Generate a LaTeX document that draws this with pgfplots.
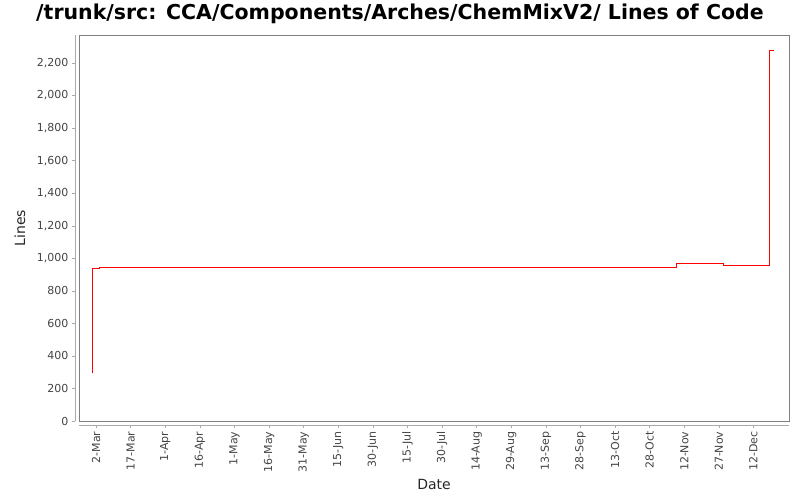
\documentclass[border=0pt]{standalone}
\usepackage{pgfplots}
\pgfplotsset{compat=1.18}
\usepackage{fontspec}
\setmainfont{DejaVu Sans}

\definecolor{axisgray}{RGB}{128,128,128}
\definecolor{tickgray}{RGB}{170,170,170}
\definecolor{textgray}{RGB}{68,68,68}

\begin{document}
\begin{tikzpicture}
  \useasboundingbox (0pt,0pt) rectangle (800pt,500pt);
  \node[font=\bfseries\fontsize{20.5}{24}\selectfont] at (400pt,486pt) {/trunk/src: CCA/Components/Arches/ChemMixV2/ Lines of Code};
  \begin{axis}[
    at={(79pt,79pt)}, anchor=south west,
    scale only axis,
    width=710pt, height=386pt,
    xmin=-7.4, xmax=300.4,
    ymin=0, ymax=2372,
    axis lines*=left,
    axis line shift=4pt,
    axis line style={tickgray, -},
    tick align=outside,
    tick style={tickgray, thin},
    major tick length=3pt,
    xtick={0,15,...,285},
    xticklabels={2-Mar,17-Mar,1-Apr,16-Apr,1-May,16-May,31-May,15-Jun,30-Jun,15-Jul,30-Jul,14-Aug,29-Aug,13-Sep,28-Sep,13-Oct,28-Oct,12-Nov,27-Nov,12-Dec},
    x tick label style={rotate=90, anchor=east, font=\fontsize{11}{13}\selectfont, text=textgray},
    ytick={0,200,...,2200},
    y tick label style={font=\fontsize{11}{13}\selectfont, text=textgray},
    /pgf/number format/assume math mode=true,
    /pgf/number format/1000 sep={,},
    xlabel={Date}, ylabel={Lines},
    label style={font=\fontsize{14}{16}\selectfont, text=black!85},
    xlabel style={at={(axis description cs:0.5,0)}, anchor=center, yshift=-63pt},
    ylabel style={at={(axis description cs:0,0.5)}, anchor=center, yshift=59pt},
    clip=false,
  ]
    \draw[axisgray] (rel axis cs:0,0) rectangle (rel axis cs:1,1);
    \addplot[red, line width=0.8pt, const plot, mark=none] coordinates {
      (-1.6, 293)
      (-1.6, 938)
      (1.4, 941)
      (126.0, 943)
      (126.4, 941)
      (251.7, 966)
      (272.0, 954)
      (292.0, 2280)
      (294.0, 2280)
    };
  \end{axis}
\end{tikzpicture}
\end{document}
